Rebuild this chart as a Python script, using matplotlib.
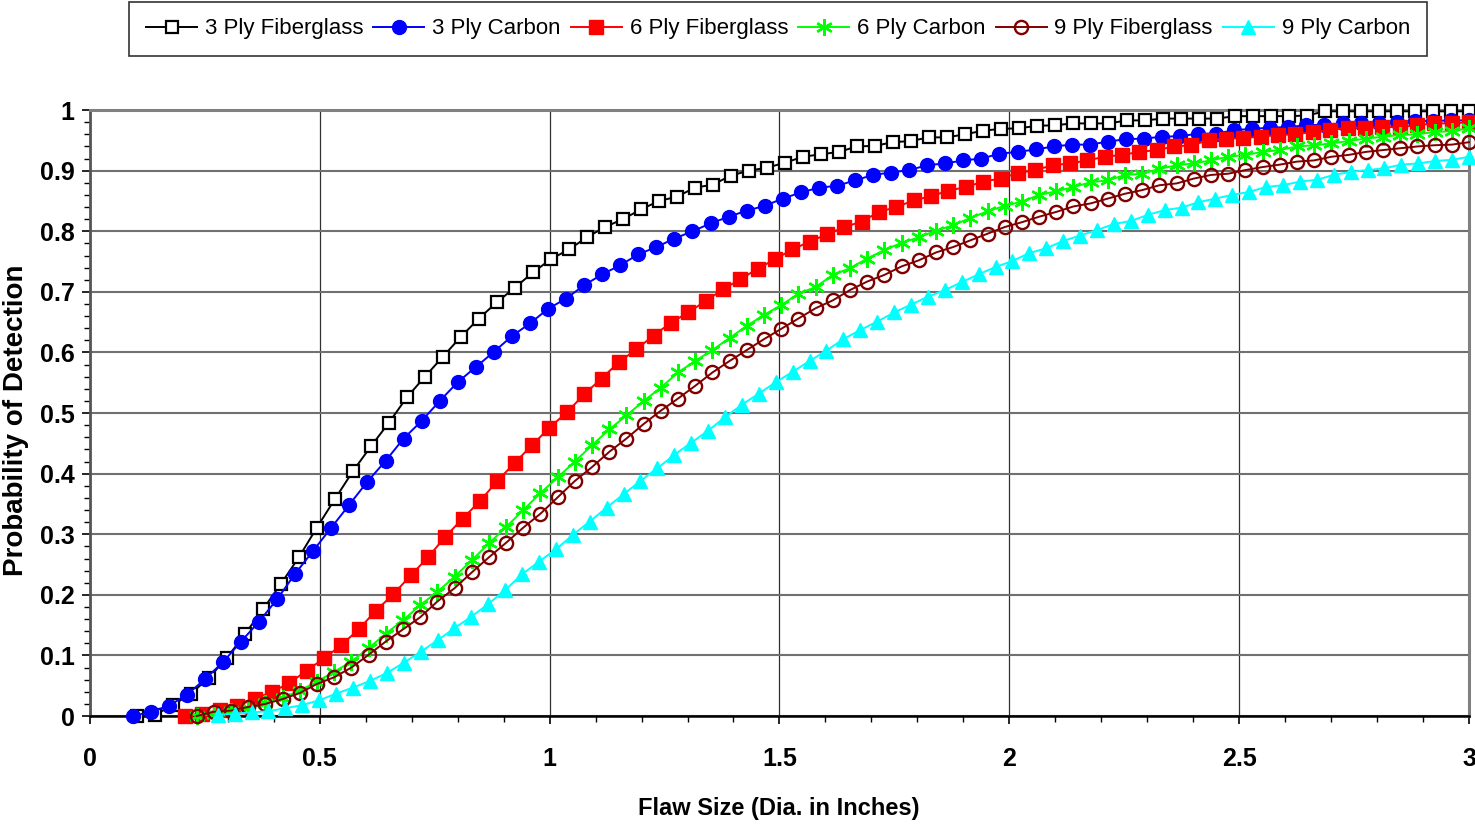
import numpy as np
import matplotlib
matplotlib.use("Agg")
import matplotlib.pyplot as plt
from matplotlib.ticker import MultipleLocator, FormatStrFormatter

plt.rcParams['font.family'] = ['Liberation Sans', 'DejaVu Sans']

# series names (legend order)
labels = ['3 Ply Fiberglass', '3 Ply Carbon', '6 Ply Fiberglass',
          '6 Ply Carbon', '9 Ply Fiberglass', '9 Ply Carbon']

# first flaw size of each series (inches); every series runs to 3.0 in 75 samples
x_start = [0.102, 0.093, 0.207, 0.232, 0.232, 0.278]
x_end = 3.0

# probability of detection, one value per marker
pod_3fg = [0.0, 0.002, 0.018, 0.037, 0.063, 0.096, 0.135, 0.176, 0.218, 0.262,
           0.311, 0.358, 0.404, 0.445, 0.484, 0.526, 0.56, 0.593, 0.626, 0.656,
           0.683, 0.707, 0.732, 0.754, 0.770, 0.790, 0.807, 0.820, 0.836, 0.850,
           0.857, 0.872, 0.877, 0.892, 0.900, 0.905, 0.913, 0.923, 0.927, 0.931,
           0.940, 0.941, 0.947, 0.949, 0.955, 0.955, 0.960, 0.966, 0.969, 0.970,
           0.974, 0.975, 0.978, 0.978, 0.978, 0.983, 0.983, 0.986, 0.986, 0.986,
           0.986, 0.990, 0.990, 0.990, 0.990, 0.991, 0.998, 0.998, 0.998, 0.998,
           0.998, 0.998, 0.998, 0.998, 0.998]
pod_3c = [0.0, 0.007, 0.017, 0.035, 0.061, 0.089, 0.123, 0.156, 0.193, 0.235,
          0.273, 0.311, 0.349, 0.387, 0.421, 0.458, 0.487, 0.520, 0.551, 0.576,
          0.601, 0.627, 0.648, 0.672, 0.689, 0.711, 0.729, 0.744, 0.762, 0.774,
          0.788, 0.800, 0.813, 0.824, 0.834, 0.842, 0.854, 0.864, 0.872, 0.875,
          0.884, 0.893, 0.897, 0.901, 0.909, 0.912, 0.917, 0.920, 0.928, 0.931,
          0.935, 0.940, 0.943, 0.943, 0.948, 0.952, 0.953, 0.956, 0.957, 0.961,
          0.961, 0.967, 0.969, 0.971, 0.972, 0.975, 0.976, 0.978, 0.979, 0.979,
          0.980, 0.982, 0.982, 0.983, 0.983]
pod_6fg = [0.0, 0.004, 0.010, 0.017, 0.028, 0.040, 0.054, 0.075, 0.095, 0.117,
           0.143, 0.174, 0.201, 0.232, 0.262, 0.296, 0.326, 0.355, 0.388, 0.418,
           0.447, 0.476, 0.501, 0.531, 0.557, 0.584, 0.605, 0.628, 0.649, 0.666,
           0.685, 0.704, 0.721, 0.738, 0.754, 0.770, 0.783, 0.795, 0.807, 0.816,
           0.832, 0.840, 0.851, 0.858, 0.867, 0.873, 0.882, 0.887, 0.896, 0.901,
           0.909, 0.912, 0.917, 0.923, 0.926, 0.931, 0.934, 0.940, 0.942, 0.950,
           0.953, 0.954, 0.956, 0.959, 0.960, 0.964, 0.967, 0.971, 0.971, 0.972,
           0.972, 0.975, 0.978, 0.978, 0.980]
pod_6c = [0.0, 0.003, 0.008, 0.014, 0.021, 0.030, 0.042, 0.057, 0.073, 0.090,
          0.112, 0.136, 0.158, 0.183, 0.205, 0.230, 0.257, 0.285, 0.312, 0.340,
          0.368, 0.394, 0.420, 0.447, 0.473, 0.496, 0.520, 0.542, 0.567, 0.586,
          0.604, 0.624, 0.644, 0.662, 0.678, 0.697, 0.708, 0.728, 0.739, 0.755,
          0.769, 0.781, 0.790, 0.801, 0.810, 0.822, 0.833, 0.842, 0.849, 0.860,
          0.866, 0.873, 0.881, 0.884, 0.893, 0.895, 0.903, 0.909, 0.912, 0.917,
          0.923, 0.926, 0.931, 0.934, 0.940, 0.942, 0.945, 0.949, 0.953, 0.956,
          0.959, 0.960, 0.964, 0.965, 0.970]
pod_9fg = [0.0, 0.007, 0.009, 0.015, 0.020, 0.028, 0.038, 0.053, 0.064, 0.080,
           0.101, 0.123, 0.143, 0.163, 0.189, 0.211, 0.237, 0.262, 0.286, 0.311,
           0.334, 0.361, 0.388, 0.411, 0.436, 0.458, 0.482, 0.504, 0.524, 0.545,
           0.567, 0.586, 0.604, 0.622, 0.639, 0.656, 0.673, 0.686, 0.703, 0.717,
           0.728, 0.742, 0.752, 0.765, 0.774, 0.785, 0.796, 0.807, 0.815, 0.824,
           0.832, 0.841, 0.846, 0.854, 0.862, 0.868, 0.876, 0.879, 0.887, 0.893,
           0.895, 0.901, 0.906, 0.910, 0.915, 0.917, 0.923, 0.926, 0.931, 0.934,
           0.937, 0.940, 0.942, 0.943, 0.947]
pod_9c = [0.002, 0.004, 0.006, 0.008, 0.013, 0.018, 0.026, 0.037, 0.047, 0.058,
          0.071, 0.088, 0.106, 0.125, 0.145, 0.164, 0.185, 0.208, 0.234, 0.255,
          0.275, 0.299, 0.321, 0.344, 0.366, 0.388, 0.409, 0.431, 0.451, 0.471,
          0.493, 0.514, 0.532, 0.551, 0.568, 0.586, 0.603, 0.622, 0.637, 0.651,
          0.666, 0.679, 0.692, 0.703, 0.716, 0.729, 0.741, 0.751, 0.764, 0.772,
          0.784, 0.793, 0.802, 0.812, 0.817, 0.827, 0.835, 0.839, 0.848, 0.854,
          0.860, 0.865, 0.873, 0.876, 0.882, 0.885, 0.893, 0.898, 0.901, 0.904,
          0.910, 0.912, 0.916, 0.918, 0.923]

series = [pod_3fg, pod_3c, pod_6fg, pod_6c, pod_9fg, pod_9c]

styles = [
    dict(color='black', marker='s', mfc='white', mec='black', ms=9, mew=1.6),
    dict(color='#0000FF', marker='o', mfc='#0000FF', mec='#0000FF', ms=10),
    dict(color='#FF0000', marker='s', mfc='#FF0000', mec='#FF0000', ms=9.5),
    dict(color='#00FF00', marker=(6, 2, 0), mfc='#00FF00', mec='#00FF00', ms=12, mew=1.7),
    dict(color='#800000', marker='o', mfc='none', mec='#800000', ms=9.5, mew=1.7),
    dict(color='#00FFFF', marker='^', mfc='#00FFFF', mec='#00FFFF', ms=10.5),
]

fig = plt.figure(figsize=(14.75, 8.24), dpi=100)
ax = fig.add_axes([0.061, 0.131, 0.9349, 0.7354])

for lab, y, x0, st in zip(labels, series, x_start, styles):
    x = np.linspace(x0, x_end, len(y))
    ax.plot(x, y, lw=1.4, label=lab, clip_on=False, zorder=3, **st)

ax.set_xlim(0, 3)
ax.set_ylim(0, 1)
ax.xaxis.set_major_locator(MultipleLocator(0.5))
ax.xaxis.set_minor_locator(MultipleLocator(0.1))
ax.yaxis.set_major_locator(MultipleLocator(0.1))
ax.yaxis.set_minor_locator(MultipleLocator(0.02))
ax.xaxis.set_major_formatter(FormatStrFormatter('%g'))
ax.yaxis.set_major_formatter(FormatStrFormatter('%g'))

ax.grid(axis='y', which='major', color='#707070', lw=1.5)
ax.grid(axis='x', which='major', color='#303030', lw=0.9)
ax.set_axisbelow(True)

for s in ['top', 'right']:
    ax.spines[s].set_color('#808080')
    ax.spines[s].set_linewidth(2.2)
ax.spines['left'].set_color('#555555')
ax.spines['left'].set_linewidth(2)
ax.spines['bottom'].set_color('black')
ax.spines['bottom'].set_linewidth(1.8)

ax.tick_params(axis='both', which='major', direction='out', length=6, width=1.2,
               labelsize=18)
ax.tick_params(axis='both', which='minor', direction='out', length=4, width=1)
ax.tick_params(axis='x', which='major', pad=16)
ax.tick_params(axis='y', which='major', pad=5)
for t in ax.get_xticklabels() + ax.get_yticklabels():
    t.set_fontweight('bold')

fig.text(16 / 1475, 1 - 420 / 824, 'Probability of Detection', rotation=90,
         ha='center', va='center', fontsize=20, fontweight='bold')
fig.text(779 / 1475, 1 - 808 / 824, 'Flaw Size (Dia. in Inches)',
         ha='center', va='center', fontsize=17, fontweight='bold')

leg = fig.legend(loc='upper center', bbox_to_anchor=(778 / 1475, 0.998), ncol=6,
                 fontsize=16, frameon=True, fancybox=False, edgecolor='black',
                 handlelength=2.3, handletextpad=0.35, columnspacing=0.45,
                 borderpad=0.75, borderaxespad=0.0, numpoints=1)
leg.get_frame().set_linewidth(1.2)

fig.savefig('out.png', dpi=100)
